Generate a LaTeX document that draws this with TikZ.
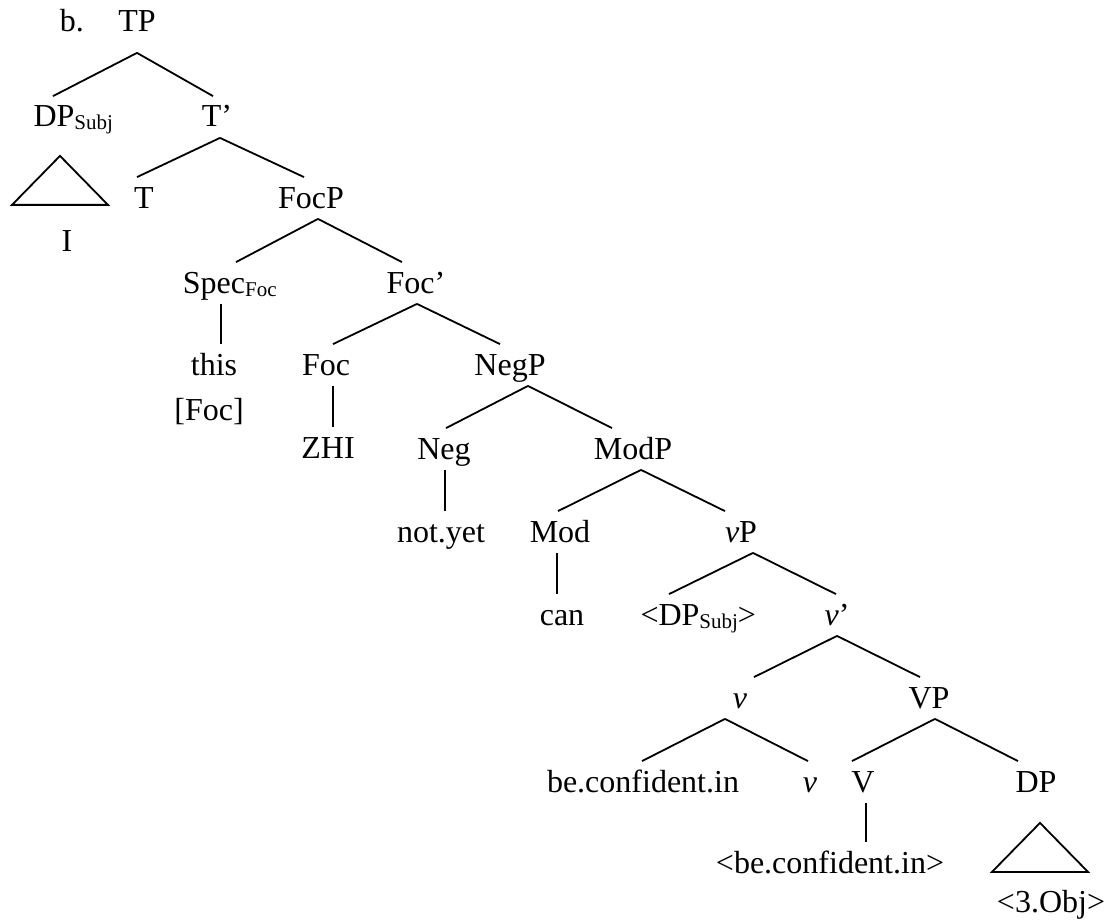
\documentclass[tikz,border=0pt]{standalone}
\usepackage{fontspec}
\setmainfont{Liberation Serif}
\usepackage{tikz}

\newcommand{\sub}[1]{\raisebox{-1.5pt}{\fontsize{10.5}{12}\selectfont #1}}

\begin{document}
\begin{tikzpicture}[x=0.5pt, y=-0.5pt, line width=0.9pt,
                every node/.style={anchor=base, inner xsep=0pt, inner ysep=4pt,
                    text height=11pt, text depth=1pt, font=\fontsize{16}{19}\selectfont}]
                \useasboundingbox (0,0) rectangle (1115,920);

                \node (b) at (72,32) {b.};
                \node (TP) at (137,32) {TP};

                \node (DPs) at (54,127) {DP\rlap{\sub{Subj}}};
                \node (Tb) at (217,127) {T’};
                \node (I) at (67,251) {I};

                \node (T) at (144,208) {T};
                \node (FocP) at (311,208) {FocP};

                \node (Spec) at (214,293) {Spec\rlap{\sub{Foc}}};
                \node (Focb) at (416,293) {Foc’};
                \node (this) at (214,375) {this};
                \node (Fbr) at (209,420) {[Foc]};

                \node (Foc) at (326,375) {Foc};
                \node (NegP) at (510,375) {NegP};
                \node (ZHI) at (328,458) {ZHI};

                \node (Neg) at (444,459) {Neg};
                \node (ModP) at (633,459) {ModP};
                \node (nyet) at (441,542) {not.yet};

                \node (Mod) at (560,542) {Mod};
                \node (vP) at (741,542) {\textit{v}P};
                \node (can) at (562,625) {can};

                \node (DPt) at (679,625) {\llap{<}DP\rlap{\sub{Subj}>}};
                \node (vb) at (837,625) {\textit{v}’};

                \node (v) at (740,708) {\textit{v}};
                \node (VP) at (929,708) {VP};

                \node (bci) at (643,792) {be.confident.in};
                \node (vh) at (810,792) {\textit{v}};
                \node (V) at (863,792) {V};
                \node (DP) at (1036,792) {DP};
                \node (bcit) at (830,873) {<be.confident.in>};
                \node (Obj) at (1051,912) {<3.Obj>};

                \draw ([xshift=-0.5pt]DPs.north) -- ([yshift=-5pt]TP.south) -- ([xshift=-2pt]Tb.north);

                \foreach \a/\i/\b/\j in {Tb/3/T/-7, Tb/3/FocP/-7, FocP/7/Spec/22, FocP/7/Focb/-14,
                        Focb/1/Foc/7, Focb/1/NegP/-10, NegP/18/Neg/2, NegP/18/ModP/-21,
                        ModP/8/Mod/-2, ModP/8/vP/-16, vP/12/DPt/-10, vP/12/vb/-1,
                        vb/0/v/14, vb/0/VP/-9, v/-15/bci/-1, v/-15/vh/-2, VP/6/V/-11, VP/6/DP/-18}
                    \draw ([xshift=\i*0.5pt]\a.south) -- ([xshift=\j*0.5pt]\b.north);

                \foreach \a/\i/\b in {Spec/7/this, Foc/7/ZHI, Neg/1/nyet, Mod/-3/can, V/3/bcit}
                    \draw ([xshift=\i*0.5pt]\a.south) -- ([xshift=\i*0.5pt]\a.south |- \b.north);

                \draw ([xshift=3pt,yshift=-9pt]DPs.south) -- ++(-48,49) -- ++(96,0) -- cycle;
                \draw ([xshift=2pt,yshift=-10pt]DP.south) -- ++(-48,49) -- ++(96,0) -- cycle;
            \end{tikzpicture}
\end{document}
